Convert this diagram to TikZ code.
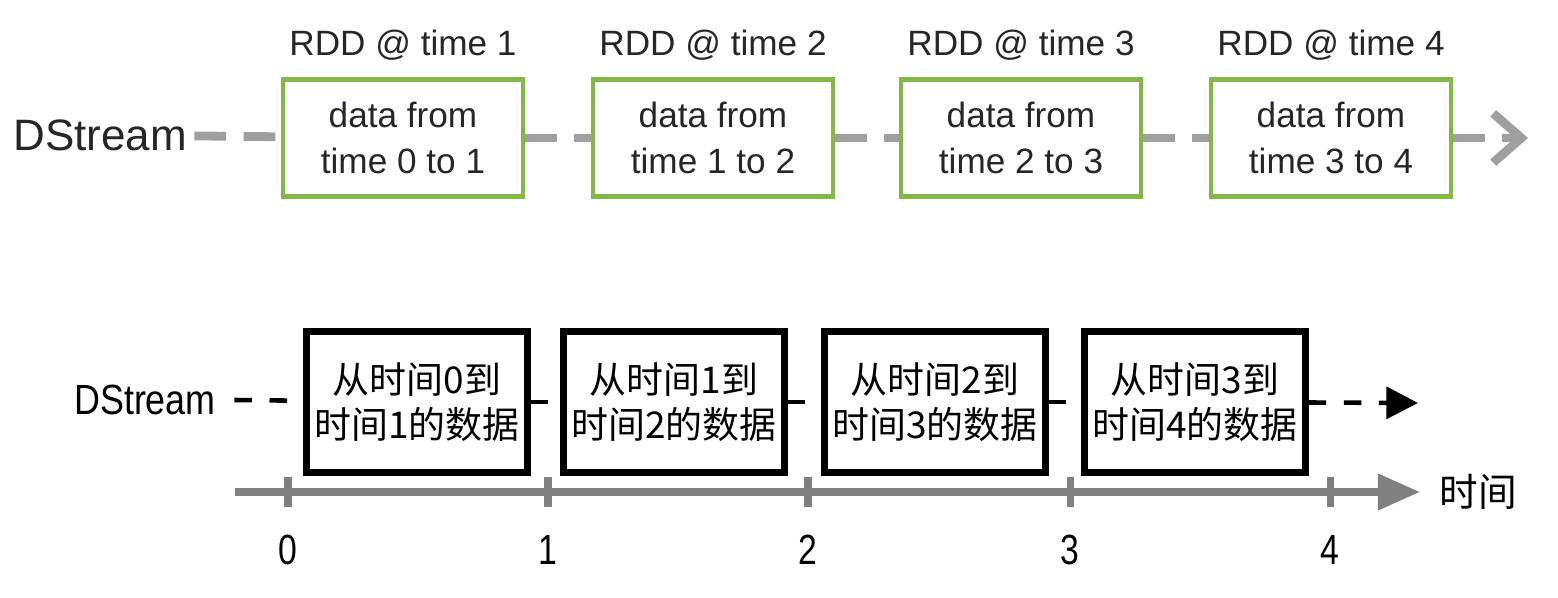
\documentclass[tikz,border=0pt]{standalone}
\usepackage{fontspec}
\setmainfont{Liberation Sans}
\newfontfamily\cjk{Noto Sans CJK SC}
\usetikzlibrary{positioning,arrows.meta}
\definecolor{boxgreen}{RGB}{130,185,70}
\tikzset{
  gbox/.style={draw=boxgreen, line width=1.2pt, minimum width=2.4cm, minimum height=1.17cm, align=center, inner sep=0pt, text=black!85, font=\fontsize{10}{13}\selectfont},
  kbox/.style={draw=black, line width=2pt, minimum width=2.2cm, minimum height=1.4cm, align=center, inner sep=0pt, font=\cjk\fontsize{10.5}{13}\selectfont},
  gdash/.style={gray!75, line width=2.5pt, dash pattern=on 9pt off 5pt},
  kdash/.style={black, line width=1.3pt, dash pattern=on 5pt off 5pt},
}
\begin{document}
\begin{tikzpicture}[x=0.01cm,y=-0.01cm]
	\useasboundingbox (0,0) rectangle (1558,598);
	% top row
	\node [font=\fontsize{12.5}{15}\selectfont, text=black!85, inner sep=2pt] (ds1) at (100,135) {DStream};
	\foreach \i/\x/\a/\b in {1/403/0/1,2/713/1/2,3/1021/2/3,4/1331/3/4}{
		\node [gbox] (g\i) at (\x,138) {data from\\time \a\ to \b};
		\node [font=\fontsize{10}{12}\selectfont, text=black!85] (r\i) at (\x,45) {RDD @ time \b};
	}
	\coordinate (gend) at (1528,138);
	\draw [gdash] (ds1) -- (g1);
	\draw [gdash] (g1) -- (g2);
	\draw [gdash] (g2) -- (g3);
	\draw [gdash] (g3) -- (g4);
	\draw [gdash, -{Straight Barb[length=8pt,width=14pt]}] (g4) -- (gend);
	% bottom row
	\node [font=\fontsize{12}{14}\selectfont, xscale=0.85, inner sep=2pt] (ds2) at (145,400) {DStream};
	\foreach \i/\x/\a/\b in {1/417/0/1,2/674/1/2,3/935/2/3,4/1195/3/4}{
		\node [kbox] (k\i) at (\x,402) {从时间\a 到\\时间\b 的数据};
	}
	\coordinate (kend) at (1418,403);
	\draw [kdash] (ds2.east) ++(12,0) -- (k1);
	\draw [kdash] (k1) -- (k2);
	\draw [kdash] (k2) -- (k3);
	\draw [kdash] (k3) -- (k4);
	\draw [kdash, -{Triangle[length=9pt,width=9pt]}] (k4) -- (kend);
	% time axis
	\coordinate (ax0) at (235,492);
	\coordinate (ax1) at (1420,492);
	\draw [gray, line width=2pt, -{Triangle[length=12pt,width=10pt]}] (ax0) -- (ax1);
	\node [font=\cjk\fontsize{11}{13}\selectfont, right=2pt of ax1] (tl) {时间};
	\foreach \t/\x in {0/288,1/548,2/808,3/1070,4/1330}{
		\draw [gray, line width=2pt] (\x,477) -- (\x,507);
		\node [font=\fontsize{12}{14}\selectfont, xscale=0.8] (t\t) at (\x,550) {\t};
	}
\end{tikzpicture}
\end{document}
